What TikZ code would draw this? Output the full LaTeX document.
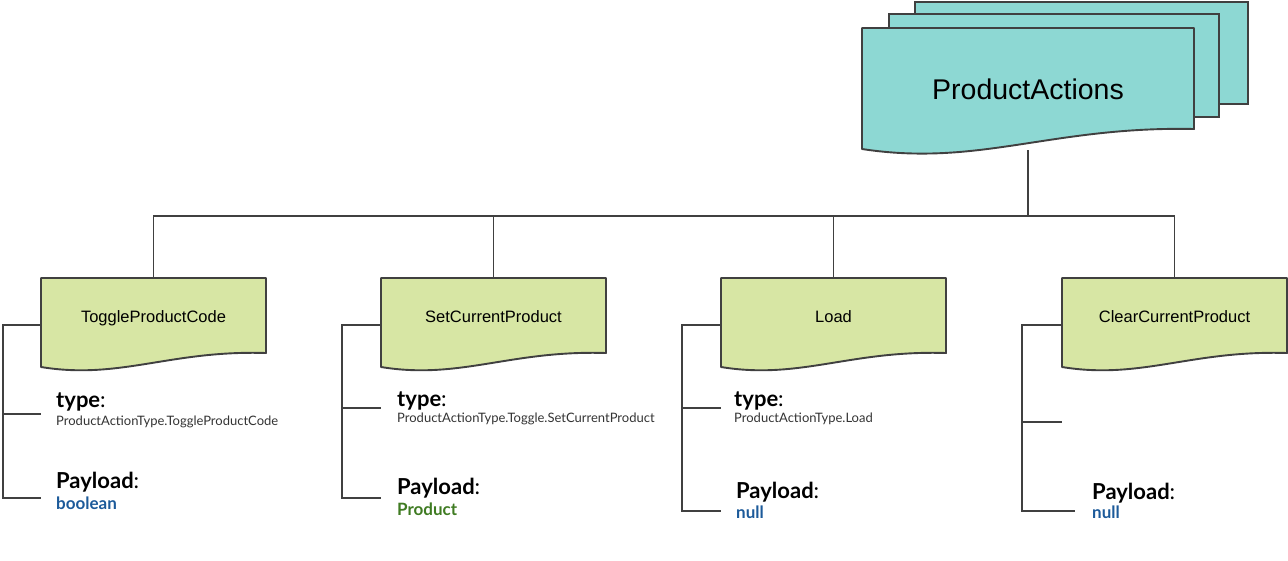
\documentclass[tikz,border=0pt]{standalone}
\usepackage{fontspec}
\setmainfont{Liberation Sans}
\newfontfamily\latofont{Lato}
\definecolor{tealfill}{HTML}{8DD8D3}
\definecolor{leaffill}{HTML}{D7E6A4}
\definecolor{ink}{HTML}{404040}
\definecolor{valblue}{HTML}{1C5A9A}
\definecolor{valgreen}{HTML}{3F7B22}
\definecolor{subink}{HTML}{333333}
\tikzset{
 wire/.style={draw=ink, line width=1.9},
 docbox/.style={draw=ink, line width=1.9, fill=leaffill, line join=round},
 pagebox/.style={draw=ink, line width=1.9, fill=tealfill},
 boxlabel/.style={inner sep=0, minimum width=225, minimum height=75, anchor=north, font=\fontsize{16.5}{18}\selectfont},
 boxtext/.style={inner sep=0, anchor=base, font=\fontsize{16.5}{18}\selectfont},
 keylbl/.style={anchor=base west, inner sep=0, font=\latofont\fontsize{22}{24}\selectfont},
 sublbl/.style={anchor=base west, inner sep=0, font=\latofont\fontsize{13}{15}\selectfont, text=subink},
 vallbl/.style={anchor=base west, inner sep=0, font=\latofont\bfseries\fontsize{17}{19}\selectfont},
}
\newcommand\leafdoc[1]{\begin{scope}[shift={(#1,278)}]\draw[docbox] (0,0) -- (225,0) -- (225,75) .. controls (129,72) and (79,102) .. (0,89) -- cycle;\end{scope}}
\begin{document}
\begin{tikzpicture}[x=1pt,y=-1pt]
\useasboundingbox (0,0) rectangle (1288,560);
% anchor nodes (invisible boxes)
\node[boxlabel] (tpc) at (153.5,278) {};
\node[boxlabel] (scp) at (493.5,278) {};
\node[boxlabel] (lod) at (833.5,278) {};
\node[boxlabel] (clr) at (1174.5,278) {};
\coordinate (mainb) at (1028,150);
\coordinate (bus) at (1028,216);
% connectors
\draw[wire] (mainb) -- (bus);
\draw[wire] (tpc.north) |- (bus) -| (clr.north);
\draw[wire] (scp.north) -- (scp.north |- bus);
\draw[wire] (lod.north) -- (lod.north |- bus);
% brackets
\coordinate (ta) at (3,325); \coordinate (tb) at (3,414); \coordinate (tc) at (3,498);
\draw[wire] (ta -| tpc.west) -- (ta) -- (tc) -- (tc -| tpc.west);
\draw[wire] (tb) -- (tb -| tpc.west);
\coordinate (sa) at (342,325); \coordinate (sb) at (342,408); \coordinate (sc) at (342,498);
\draw[wire] (sa -| scp.west) -- (sa) -- (sc) -- (sc -| scp.west);
\draw[wire] (sb) -- (sb -| scp.west);
\coordinate (la) at (682,325); \coordinate (lb) at (682,408); \coordinate (lc) at (682,511);
\draw[wire] (la -| lod.west) -- (la) -- (lc) -- (lc -| lod.west);
\draw[wire] (lb) -- (lb -| lod.west);
\coordinate (ca) at (1022,325); \coordinate (cb) at (1022,422); \coordinate (cc) at (1022,511); \coordinate (ce) at (1075,511);
\draw[wire] (ca -| clr.west) -- (ca) -- (cc) -- (ce);
\draw[wire] (cb) -- (cb -| clr.west);
% main stacked document
\draw[pagebox] (915,2) rectangle (1248,104);
\draw[pagebox] (889,14) rectangle (1219,117);
\begin{scope}[shift={(862,28)}]
\draw[pagebox, line join=round] (0,0) -- (332,0) -- (332,101) .. controls (190,98) and (117,139) .. (0,121) -- cycle;
\end{scope}
\node[inner sep=0, font=\fontsize{28.5}{30}\selectfont] (main) at (1028,89.5) {ProductActions};
% child documents
\leafdoc{41}\leafdoc{381}\leafdoc{721}\leafdoc{1062}
\node[boxtext] (tpct) at (153.5,322) {ToggleProductCode};
\node[boxtext] (scpt) at (493.5,322) {SetCurrentProduct};
\node[boxtext] (lodt) at (833.5,322) {Load};
\node[boxtext] (clrt) at (1174.5,322) {ClearCurrentProduct};
% field labels
\node[keylbl] (t1) at (56,407) {\textbf{type}:};
\node[sublbl] (t1s) at (56,425) {ProductActionType.ToggleProductCode};
\node[keylbl] (p1) at (56,488) {\textbf{Payload}:};
\node[vallbl, text=valblue] (p1v) at (56,509) {boolean};
\node[keylbl] (t2) at (397,406) {\textbf{type}:};
\node[sublbl] (t2s) at (397,422) {ProductActionType.Toggle.SetCurrentProduct};
\node[keylbl] (p2) at (397,494) {\textbf{Payload}:};
\node[vallbl, text=valgreen] (p2v) at (397,515) {Product};
\node[keylbl] (t3) at (734,406) {\textbf{type}:};
\node[sublbl] (t3s) at (734,422) {ProductActionType.Load};
\node[keylbl] (p3) at (736,498) {\textbf{Payload}:};
\node[vallbl, text=valblue] (p3v) at (736,518) {null};
\node[keylbl] (p4) at (1092,499) {\textbf{Payload}:};
\node[vallbl, text=valblue] (p4v) at (1092,518) {null};
\end{tikzpicture}
\end{document}
